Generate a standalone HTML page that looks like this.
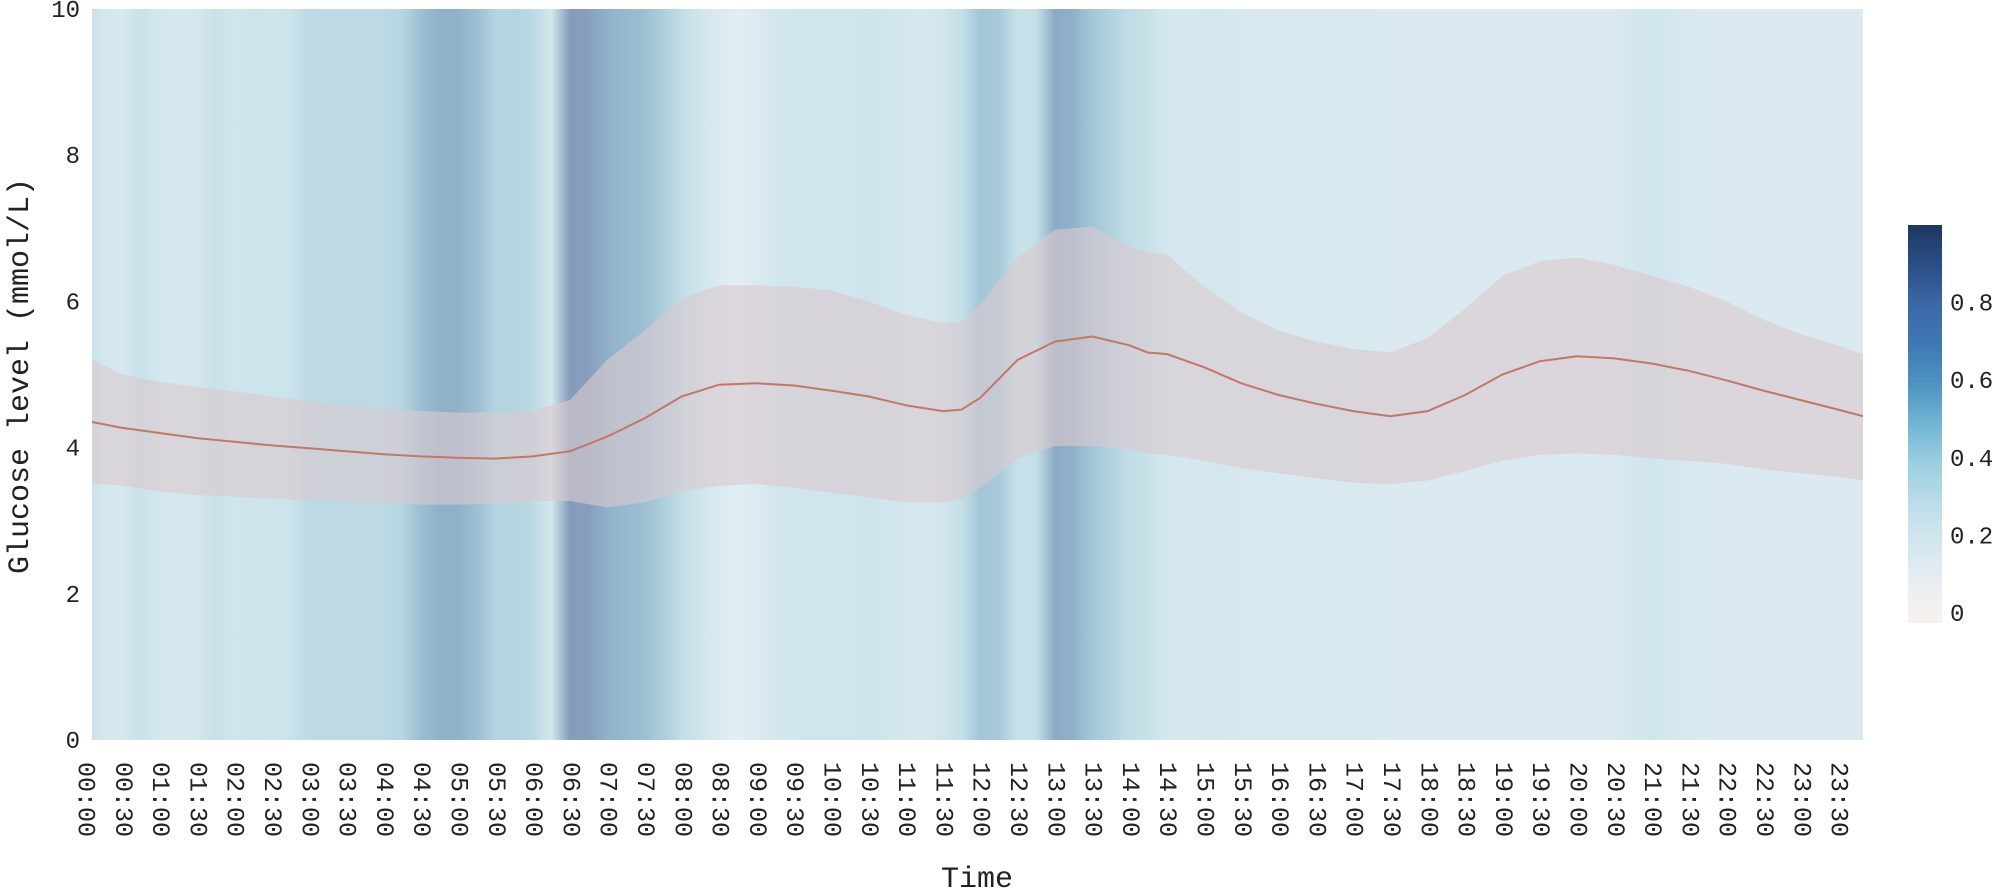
<!DOCTYPE html>
<html><head><meta charset="utf-8">
<style>
html,body{margin:0;padding:0;background:#fff;}
svg{display:block;font-family:"Liberation Mono",monospace;}
</style></head>
<body>
<svg id="chart" width="2000" height="888" viewBox="0 0 2000 888" xmlns="http://www.w3.org/2000/svg">
<defs>
<linearGradient id="heatGrad" gradientUnits="userSpaceOnUse" x1="0" y1="0" x2="2000" y2="0"></linearGradient>
<linearGradient id="cbGrad" x1="0" y1="1" x2="0" y2="0"></linearGradient>
<clipPath id="plotClip"><rect x="92" y="9" width="1771" height="731"/></clipPath>
</defs>
<g id="plot"></g>
<g id="axes"></g>
<g id="cbar"></g>
</svg>
<script>
// ---- data ----
const heatTimesStep = 15; // minutes per heatmap cell
const heatValues = [
 .40,.30,.28,.36, .30,.28,.30,.36, .32,.34,.33,.34, .42,.42,.42,.42,
 .42,.44,.55,.62, .62,.55,.45,.45, .42,.30,.78,.75, .62,.58,.55,.48,
 .40,.32,.25,.20, .25,.30,.32,.32, .32,.32,.33,.32, .30,.28,.32,.38,
 .52,.50,.36,.38, .66,.62,.52,.46, .40,.36,.30,.28, .30,.30,.28,.28,
 .27,.27,.27,.27, .27,.27,.26,.26, .26,.26,.26,.26, .26,.26,.26,.26,
 .26,.26,.26,.30, .32,.30,.27,.26, .26,.26,.26,.26, .26,.26,.26,.26
];
const lineTimes = [0,30,60,90,120,150,180,210,240,270,300,330,360,390,420,450,480,510,540,570,600,630,660,690,
 705,720,750,780,810,840,855,870,
 900,930,960,990,1020,1050,1080,1110,1140,1170,1200,1230,1260,1290,1320,1350,1380,1410,1430];
const meanValues = [4.37,4.27,4.2,4.13,4.08,4.03,3.99,3.95,3.91,3.88,3.86,3.85,3.88,3.95,4.15,4.4,4.7,4.86,4.88,4.85,4.78,4.7,4.58,4.5,
 4.52,4.68,5.2,5.45,5.52,5.4,5.3,5.28,
 5.1,4.88,4.72,4.6,4.5,4.43,4.5,4.72,5.0,5.18,5.25,5.22,5.15,5.05,4.92,4.78,4.65,4.52,4.43];
const upperValues = [5.25,5.0,4.9,4.83,4.77,4.7,4.63,4.58,4.53,4.5,4.48,4.48,4.5,4.65,5.2,5.6,6.05,6.22,6.22,6.2,6.15,6.0,5.82,5.7,
 5.72,5.95,6.6,6.98,7.02,6.75,6.68,6.65,
 6.2,5.85,5.6,5.45,5.35,5.3,5.5,5.9,6.35,6.55,6.6,6.5,6.35,6.2,6.0,5.75,5.55,5.4,5.28];
const lowerValues = [3.52,3.48,3.4,3.35,3.33,3.3,3.28,3.26,3.24,3.22,3.22,3.23,3.27,3.27,3.18,3.25,3.4,3.48,3.5,3.45,3.38,3.32,3.25,3.25,
 3.3,3.45,3.85,4.02,4.02,3.98,3.92,3.9,
 3.82,3.72,3.65,3.58,3.52,3.5,3.55,3.68,3.82,3.9,3.92,3.9,3.85,3.82,3.78,3.7,3.65,3.6,3.55];
const yTicks = [0,2,4,6,8,10];
const cbTicks = [0,0.2,0.4,0.6,0.8];
const xTickCount = 48;

// ---- scales ----
const PL=92, PR=1863, PT=9, PB=740;
function xs(t){return 85 + t*37.3/30;}
function ys(v){return PB - v*(PB-PT)/10;}
const CB_T=225, CB_B=613;
function cbs(v){return CB_B - v*(CB_B-CB_T)/1.0;}
const cscale=[[0,'#f7f1ee'],[0.1,'#e9eef2'],[0.2,'#d3e6ef'],[0.3,'#bcdde9'],[0.4,'#9ccfe0'],[0.5,'#72b4d3'],[0.6,'#4d94c2'],[0.7,'#3f78b5'],[0.8,'#3b68a8'],[0.9,'#2a4e86'],[1,'#1e365f']];

const NS='http://www.w3.org/2000/svg';
function mk(tag,attrs,parent){const e=document.createElementNS(NS,tag);for(const k in attrs)e.setAttribute(k,attrs[k]);parent.appendChild(e);return e;}
function hex(h){return [1,3,5].map(i=>parseInt(h.substr(i,2),16));}
function rgbAt(z){
  for(let i=1;i<cscale.length;i++){
    if(z<=cscale[i][0]){
      const a=cscale[i-1],b=cscale[i],f=(z-a[0])/(b[0]-a[0]);
      const ca=hex(a[1]),cb=hex(b[1]);
      return ca.map((c,k)=>c+(cb[k]-c)*f);
    }
  }
  return hex(cscale[cscale.length-1][1]);
}
function colorAt(z){return 'rgb('+rgbAt(z).map(Math.round).join(',')+')';}
function heatColor(z){
  const c=rgbAt(z); const g=(c[0]+c[1]+c[2])/3; const s=0.3*Math.min(1,z*1.6);
  return 'rgb('+c.map(v=>Math.round(v+(g-v)*s)).join(',')+')';
}

// heatmap gradient
const hg=document.getElementById('heatGrad');
heatValues.forEach((z,i)=>{
  const t=i*heatTimesStep;
  const off=Math.max(0,Math.min(1,xs(t)/2000));
  mk('stop',{offset:off,'stop-color':heatColor(z)},hg);
});

const plot=document.getElementById('plot');
const heat=mk('rect',{x:PL,y:PT,width:PR-PL,height:PB-PT,fill:'url(#heatGrad)',opacity:0.68},plot);



// band
const g=mk('g',{'clip-path':'url(#plotClip)'},plot);
let d='';
lineTimes.forEach((t,i)=>{d+=(i?'L':'M')+xs(t).toFixed(1)+','+ys(upperValues[i]).toFixed(1);});
for(let i=lineTimes.length-1;i>=0;i--){d+='L'+xs(lineTimes[i]).toFixed(1)+','+ys(lowerValues[i]).toFixed(1);}
d+='Z';
const band=mk('path',{d:d,fill:'rgba(218,202,206,0.62)',stroke:'none'},g);


let md='';
lineTimes.forEach((t,i)=>{md+=(i?'L':'M')+xs(t).toFixed(1)+','+ys(meanValues[i]).toFixed(1);});
const ml=mk('path',{d:md,fill:'none',stroke:'#c07868','stroke-width':2,'stroke-linejoin':'round'},g);



// axes
const axes=document.getElementById('axes');
yTicks.forEach(v=>{
  const tx=mk('text',{x:80,y:ys(v)+8,'text-anchor':'end','font-size':24,fill:'#222'},axes);
  tx.textContent=v;
  
  
});
for(let i=0;i<xTickCount;i++){
  const t=i*30;
  const lab=String(Math.floor(t/60)).padStart(2,'0')+':'+String(t%60).padStart(2,'0');
  const x=xs(t);
  const tx=mk('text',{x:762,y:-x,'font-size':25,fill:'#222',transform:'rotate(90)','dominant-baseline':'central'},axes);
  tx.textContent=lab;
  
  
}
const xt=mk('text',{x:977,y:887,'text-anchor':'middle','font-size':30,fill:'#222'},axes);
xt.textContent='Time';


const yt=mk('text',{x:0,y:0,'text-anchor':'middle','font-size':30,fill:'#222',transform:'translate(28,376) rotate(-90)'},axes);
yt.textContent='Glucose level (mmol/L)';



// colorbar
const cg=document.getElementById('cbGrad');
for(let i=0;i<=20;i++){const z=i/20;mk('stop',{offset:z,'stop-color':colorAt(z)},cg);}
const cbar=document.getElementById('cbar');
const cbr=mk('rect',{x:1908,y:CB_T,width:34,height:CB_B-CB_T+10,fill:'url(#cbGrad)'},cbar);


cbTicks.forEach(v=>{
  const tx=mk('text',{x:1950,y:cbs(v)+8,'font-size':24,fill:'#222'},cbar);
  tx.textContent=v;
  
  
});
</script>
</body></html>
